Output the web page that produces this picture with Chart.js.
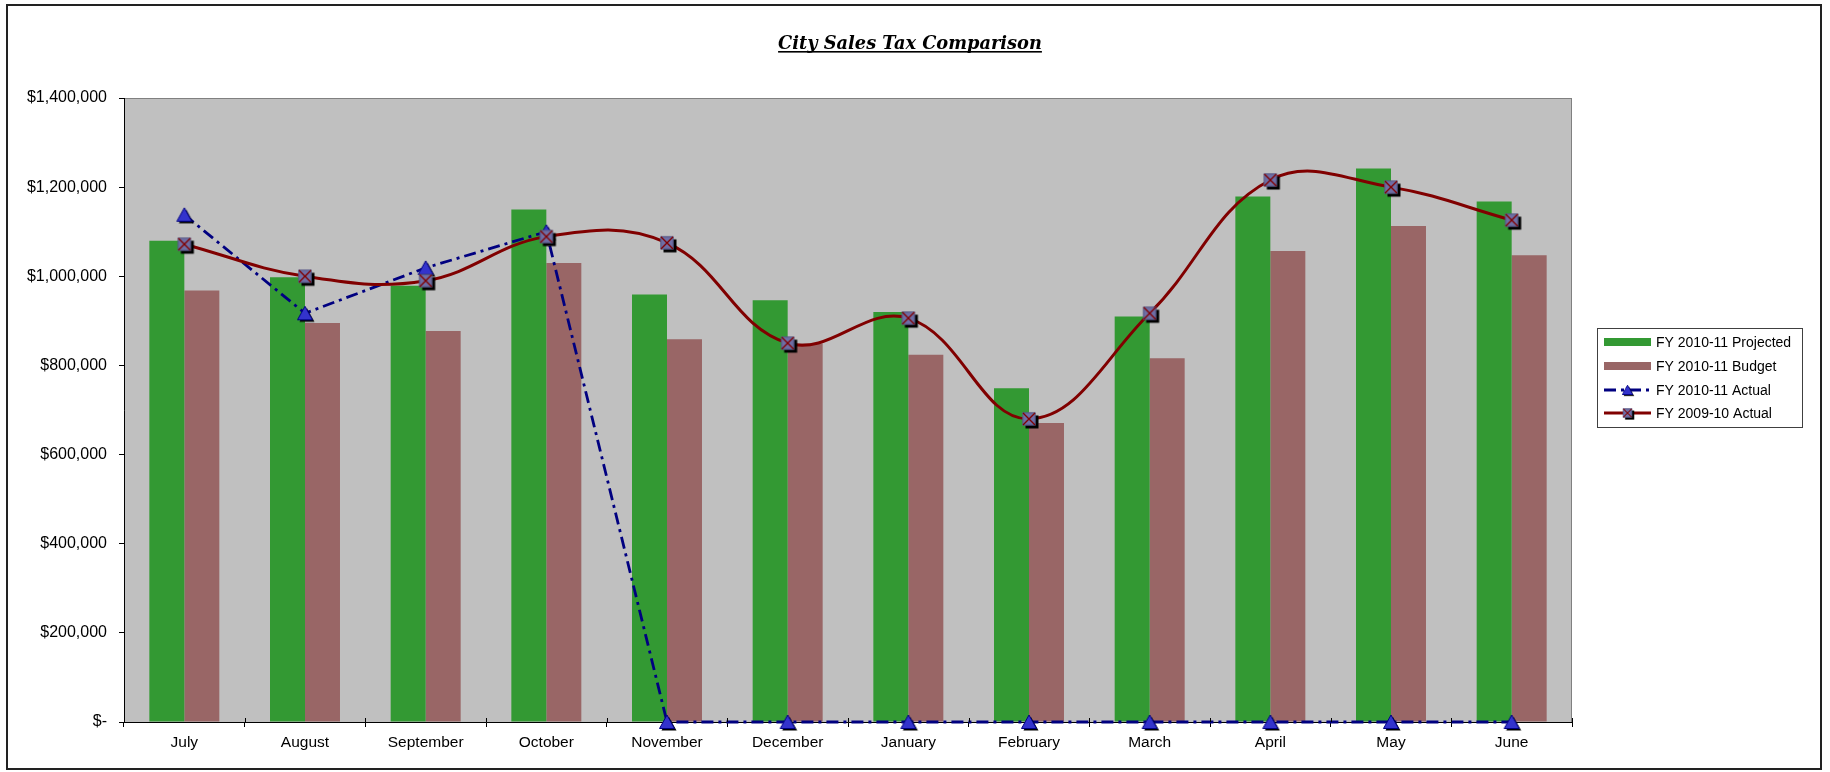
<!DOCTYPE html>
<html>
<head>
<meta charset="utf-8">
<style>
  html, body { margin: 0; padding: 0; background: #ffffff; }
  #wrap { width: 1830px; height: 772px; }
</style>
<script src="https://cdn.jsdelivr.net/npm/chart.js@4/dist/chart.umd.min.js"></script>
</head>
<body>
<div id="wrap"><canvas id="c" width="1830" height="772"></canvas></div>
<script>
// ---------------- DATA ----------------
const chartTitle = 'City Sales Tax Comparison';
const months = ['July', 'August', 'September', 'October', 'November', 'December',
                'January', 'February', 'March', 'April', 'May', 'June'];
const seriesNames = ['FY 2010-11 Projected', 'FY 2010-11 Budget', 'FY 2010-11 Actual', 'FY 2009-10 Actual'];
const projected = [1080000, 998000, 979000, 1150000, 959000, 946000, 920000, 749000, 910000, 1179000, 1242000, 1168000];
const budget = [968000, 895000, 877000, 1030000, 859000, 849000, 824000, 671000, 816000, 1057000, 1113000, 1047000];
const actual1011 = [1138000, 917000, 1019000, 1100000, 0, 0, 0, 0, 0, 0, 0, 0];
const actual0910 = [1072000, 1000000, 990000, 1089000, 1075000, 850000, 906000, 680000, 917000, 1216000, 1200000, 1126000];
const yTickLabels = ['$-', '$200,000', '$400,000', '$600,000', '$800,000', '$1,000,000', '$1,200,000', '$1,400,000'];
const yStep = 200000;

// ---------------- STYLE ----------------
const GREEN = '#339933';
const MAUVE = '#996666';
const NAVY = '#000080';
const MAROON = '#800000';
const PLOT_BG = '#c0c0c0';
const FONT = "Arial, 'Liberation Sans', sans-serif";
const DASHDOT = [12, 5, 3, 5];

function makeSquareX() {
  const c = document.createElement('canvas');
  c.width = 26; c.height = 26;
  const g = c.getContext('2d');
  g.fillStyle = '#000000';
  g.fillRect(9.5, 9.5, 13, 13);
  g.fillStyle = '#6e6ea6';
  g.fillRect(6.5, 6.5, 13, 13);
  g.strokeStyle = '#50507a';
  g.lineWidth = 0.8;
  g.strokeRect(6.9, 6.9, 12.2, 12.2);
  g.strokeStyle = MAROON;
  g.lineWidth = 1.4;
  g.beginPath();
  g.moveTo(7, 7); g.lineTo(19, 19);
  g.moveTo(19, 7); g.lineTo(7, 19);
  g.stroke();
  return c;
}
function makeTriangle() {
  const c = document.createElement('canvas');
  c.width = 26; c.height = 26;
  const g = c.getContext('2d');
  const tri = (dx, dy) => {
    g.beginPath();
    g.moveTo(13 + dx, 6 + dy);
    g.lineTo(20.5 + dx, 19.5 + dy);
    g.lineTo(5.5 + dx, 19.5 + dy);
    g.closePath();
  };
  g.fillStyle = '#000000';
  tri(2, 2); g.fill();
  g.fillStyle = '#3333cc';
  g.strokeStyle = NAVY;
  g.lineWidth = 1;
  tri(0, 0); g.fill(); g.stroke();
  return c;
}
const squareX = makeSquareX();
const triangle = makeTriangle();

const deco = {
  id: 'deco',
  beforeDraw(chart) {
    const ctx = chart.ctx;
    const a = chart.chartArea;
    ctx.save();
    ctx.fillStyle = '#ffffff';
    ctx.fillRect(0, 0, chart.width, chart.height);
    ctx.fillStyle = PLOT_BG;
    ctx.fillRect(a.left, a.top, a.right - a.left, a.bottom - a.top);
    ctx.strokeStyle = '#808080';
    ctx.lineWidth = 1;
    ctx.strokeRect(a.left + 0.5, a.top + 0.5, a.right - a.left - 1, a.bottom - a.top);
    ctx.restore();
  },
  afterDraw(chart) {
    const ctx = chart.ctx;
    const a = chart.chartArea;
    const xs = chart.scales.x;
    ctx.save();
    // cross ticks above the category axis
    ctx.strokeStyle = '#000000';
    ctx.lineWidth = 1;
    ctx.beginPath();
    for (let i = 0; i <= months.length; i++) {
      const px = Math.round(xs.getPixelForValue(i - 0.5)) + 0.5;
      ctx.moveTo(px, a.bottom - 4);
      ctx.lineTo(px, a.bottom);
    }
    ctx.stroke();

    // outer frame
    ctx.strokeStyle = '#222222';
    ctx.lineWidth = 2;
    ctx.strokeRect(7, 5, 1814, 764);

    // title
    ctx.fillStyle = '#000000';
    ctx.font = "italic bold 17.8px 'DejaVu Serif', serif";
    ctx.textAlign = 'center';
    ctx.textBaseline = 'alphabetic';
    const tx = 910, ty = 49;
    ctx.fillText(chartTitle, tx, ty);
    const tw = ctx.measureText(chartTitle).width;
    ctx.fillRect(tx - tw / 2, ty + 2, tw, 1.6);

    // legend
    const lx = 1597, ly = 328, lw = 205, lh = 99;
    ctx.fillStyle = '#ffffff';
    ctx.fillRect(lx, ly, lw, lh);
    ctx.strokeStyle = '#404040';
    ctx.lineWidth = 1;
    ctx.strokeRect(lx + 0.5, ly + 0.5, lw, lh);
    const rows = [342, 366, 390, 413];
    const sx0 = 1604, sx1 = 1651;
    ctx.font = '14px ' + FONT;
    ctx.textAlign = 'left';
    ctx.textBaseline = 'middle';
    seriesNames.forEach((name, i) => {
      const y = rows[i];
      const ds = chart.data.datasets[i];
      if (ds.type === 'bar') {
        ctx.fillStyle = ds.backgroundColor;
        ctx.fillRect(sx0, y - 4, sx1 - sx0, 8);
      } else {
        ctx.save();
        ctx.strokeStyle = ds.borderColor;
        ctx.lineWidth = ds.borderWidth;
        ctx.setLineDash(ds.borderDash || []);
        ctx.beginPath();
        ctx.moveTo(sx0, y);
        ctx.lineTo(sx1, y);
        ctx.stroke();
        ctx.restore();
        const img = ds.pointStyle;
        const s = 0.7;
        ctx.drawImage(img, (sx0 + sx1) / 2 - img.width * s / 2, y - img.height * s / 2,
                      img.width * s, img.height * s);
      }
      ctx.fillStyle = '#000000';
      ctx.fillText(name, 1656, y + 1);
    });
    ctx.restore();
  }
};

new Chart(document.getElementById('c'), {
  data: {
    labels: months,
    datasets: [
      { type: 'bar', label: seriesNames[0], data: projected, backgroundColor: GREEN,
        categoryPercentage: 0.58, barPercentage: 1.0, order: 2 },
      { type: 'bar', label: seriesNames[1], data: budget, backgroundColor: MAUVE,
        categoryPercentage: 0.58, barPercentage: 1.0, order: 3 },
      { type: 'line', label: seriesNames[2], data: actual1011, borderColor: NAVY, borderWidth: 2.8,
        borderDash: DASHDOT, tension: 0, pointStyle: triangle, pointRadius: 8, clip: false,
        fill: false, order: 1 },
      { type: 'line', label: seriesNames[3], data: actual0910, borderColor: MAROON, borderWidth: 3,
        tension: 0.4, pointStyle: squareX, pointRadius: 8, clip: false, fill: false, order: 0 }
    ]
  },
  options: {
    responsive: false,
    animation: false,
    events: [],
    layout: { padding: { top: 98, right: 258, left: 0, bottom: 0 } },
    plugins: {
      legend: { display: false },
      title: { display: false },
      tooltip: { enabled: false }
    },
    scales: {
      x: {
        type: 'category',
        offset: true,
        afterFit(s) { s.height = 50; },
        grid: { display: true, offset: true, drawOnChartArea: false, drawTicks: true,
                tickLength: 5, color: '#000000', lineWidth: 1 },
        border: { display: true, color: '#000000', width: 1 },
        ticks: { color: '#000000', font: { family: FONT, size: 15.5 }, padding: 6,
                 maxRotation: 0, autoSkip: false }
      },
      y: {
        min: 0, max: 1400000,
        afterFit(s) { s.width = 124; },
        grid: { display: true, drawOnChartArea: false, drawTicks: true, tickLength: 5,
                color: '#000000', lineWidth: 1 },
        border: { display: true, color: '#000000', width: 1 },
        ticks: { stepSize: yStep, color: '#000000', font: { family: FONT, size: 16 }, padding: 12,
                 callback: (v) => yTickLabels[Math.round(v / yStep)] }
      }
    }
  },
  plugins: [deco]
});
</script>
</body>
</html>
